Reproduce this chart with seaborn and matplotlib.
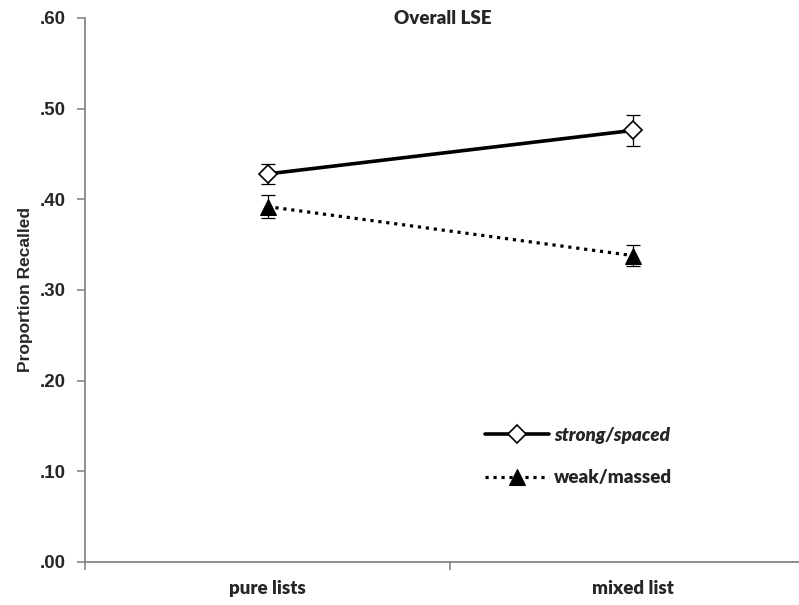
import pandas as pd
import matplotlib
matplotlib.use("Agg")
import matplotlib.pyplot as plt
import seaborn as sns
from matplotlib.ticker import FixedLocator

# Data
conditions = ["pure lists", "mixed list"]
strong_spaced = [0.428, 0.476]
strong_err = [0.011, 0.017]
weak_massed = [0.392, 0.338]
weak_err = [0.013, 0.012]
yticks = [0.0, 0.1, 0.2, 0.3, 0.4, 0.5, 0.6]
ytick_labels = [".00", ".10", ".20", ".30", ".40", ".50", ".60"]

df = pd.DataFrame({
    "condition": conditions * 2,
    "recall": strong_spaced + weak_massed,
    "group": ["strong/spaced"] * 2 + ["weak/massed"] * 2,
})

sns.set_style("white")
plt.rcParams["font.family"] = ["Liberation Sans", "DejaVu Sans"]
cal = ["Lato", "DejaVu Sans"]

fig = plt.figure(figsize=(7.99, 6.05), dpi=100)
ax = fig.add_axes([85 / 799, 1 - 562 / 605, 730 / 799, (562 - 18) / 605])

grey = "#868686"

strong = df[df["group"] == "strong/spaced"]
weak = df[df["group"] == "weak/massed"]

sns.lineplot(data=strong, x="condition", y="recall", ax=ax, color="black",
             linewidth=2.6, marker="D", markersize=9, markerfacecolor="white",
             markeredgecolor="black", markeredgewidth=1.2, label="strong/spaced",
             sort=False)
sns.lineplot(data=weak, x="condition", y="recall", ax=ax, color="black",
             linewidth=2.3, linestyle=(0, (1, 1.5)), marker="^", markersize=11,
             markerfacecolor="black", markeredgecolor="black", label="weak/massed",
             sort=False)

ax.errorbar(range(len(conditions)), strong_spaced, yerr=strong_err, fmt="none",
            ecolor="black", elinewidth=0.9, capsize=5, capthick=0.9, zorder=1)
ax.errorbar(range(len(conditions)), weak_massed, yerr=weak_err, fmt="none",
            ecolor="black", elinewidth=0.9, capsize=5, capthick=0.9, zorder=1)

ax.set_xlim(-0.5, 1.5)
ax.set_ylim(0, 0.6)
ax.set_yticks(yticks)
ax.set_yticklabels(ytick_labels, fontsize=13.5, fontweight="bold")
ax.set_xticks(range(len(conditions)))
ax.set_xticklabels(conditions, family=cal, fontsize=13.5, fontweight="heavy")
ax.xaxis.set_minor_locator(FixedLocator([-0.5, 0.5, 1.5]))
ax.tick_params(axis="x", which="major", length=0, pad=13)
ax.tick_params(axis="x", which="minor", length=6, width=1.2, color=grey,
               direction="out", bottom=True)
ax.tick_params(axis="y", length=6, width=1.2, color=grey, direction="out",
               left=True, pad=8)

for side in ["top", "right"]:
    ax.spines[side].set_visible(False)
for side in ["left", "bottom"]:
    ax.spines[side].set_color(grey)
    ax.spines[side].set_linewidth(1.3)

ax.set_xlabel("")
ax.set_ylabel("Proportion Recalled", fontsize=12.5, fontweight="bold", labelpad=5)

fig.text(443 / 799, 1 - 18 / 605, "Overall LSE", ha="center", va="center",
         family=cal, fontsize=13.5, fontweight="heavy")

leg = ax.legend(loc="upper left", bbox_to_anchor=(383 / 730, 152 / 544),
                frameon=False, handlelength=3.4, handletextpad=0.3,
                labelspacing=1.35,
                prop={"family": cal, "weight": "heavy", "size": 13.5})
leg.get_texts()[0].set_fontstyle("italic")

fig.savefig("out.png", dpi=100)
